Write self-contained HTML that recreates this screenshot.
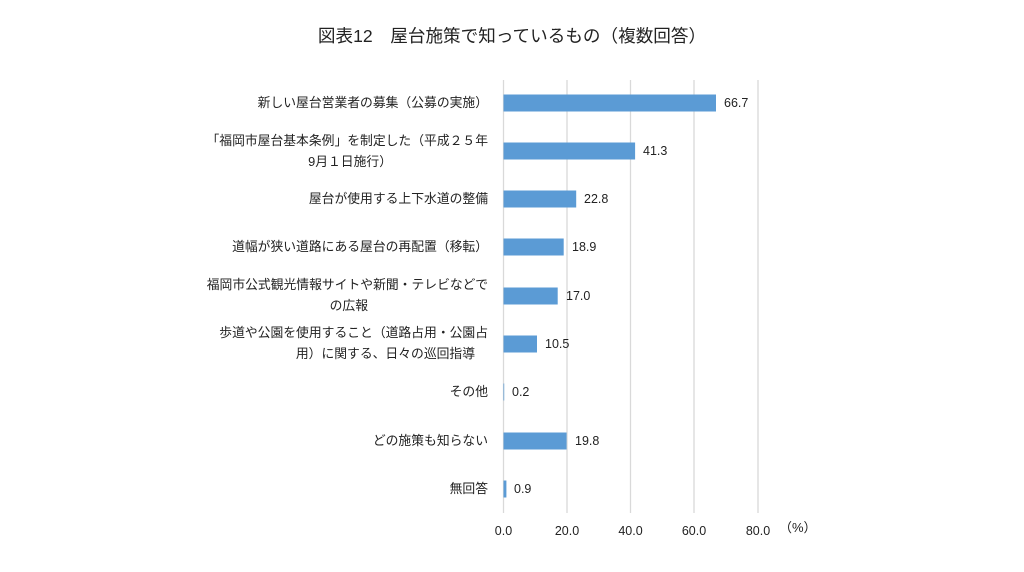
<!DOCTYPE html>
<html><head><meta charset="utf-8"><style>
body{margin:0;background:#fff;}
svg text{font-family:"Liberation Sans","Noto Sans CJK JP",sans-serif;fill:#222;}
</style></head><body>
<svg width="1024" height="567" xmlns="http://www.w3.org/2000/svg">
<rect width="1024" height="567" fill="#fff"/>
<text x="512" y="42" font-size="17.6" text-anchor="middle">図表12　屋台施策で知っているもの（複数回答）</text>
<g stroke="#d9d9d9" stroke-width="1.3">
<line x1="503.5" y1="80" x2="503.5" y2="513"/>
<line x1="567" y1="80" x2="567" y2="513"/>
<line x1="630.5" y1="80" x2="630.5" y2="513"/>
<line x1="694" y1="80" x2="694" y2="513"/>
<line x1="758" y1="80" x2="758" y2="513"/>
</g>
<g fill="#5b9bd5">
<rect x="503.5" y="94.5" width="212.5" height="17"/>
<rect x="503.5" y="142.5" width="131.6" height="17"/>
<rect x="503.5" y="190.5" width="72.7" height="17"/>
<rect x="503.5" y="238.5" width="60.2" height="17"/>
<rect x="503.5" y="287.5" width="54.2" height="17"/>
<rect x="503.5" y="335.5" width="33.5" height="17"/>
<rect x="503.5" y="383.5" width="0.7" height="17"/>
<rect x="503.5" y="432.5" width="63.1" height="17"/>
<rect x="503.5" y="480.5" width="2.9" height="17"/>
</g>
<g font-size="12.5">
<text x="724" y="107">66.7</text>
<text x="643" y="155">41.3</text>
<text x="584" y="203">22.8</text>
<text x="572" y="251">18.9</text>
<text x="566" y="300">17.0</text>
<text x="545" y="348">10.5</text>
<text x="512" y="396">0.2</text>
<text x="575" y="445">19.8</text>
<text x="514" y="493">0.9</text>
</g>
<g font-size="12.8" text-anchor="end">
<text x="488" y="107">新しい屋台営業者の募集（公募の実施）</text>
<text x="488" y="145">「福岡市屋台基本条例」を制定した（平成２５年</text>
<text x="392" y="166">9月１日施行）</text>
<text x="488" y="203">屋台が使用する上下水道の整備</text>
<text x="488" y="251">道幅が狭い道路にある屋台の再配置（移転）</text>
<text x="488" y="289">福岡市公式観光情報サイトや新聞・テレビなどで</text>
<text x="368" y="310">の広報</text>
<text x="488" y="337">歩道や公園を使用すること（道路占用・公園占</text>
<text x="475" y="358">用）に関する、日々の巡回指導</text>
<text x="488" y="396">その他</text>
<text x="488" y="445">どの施策も知らない</text>
<text x="488" y="493">無回答</text>
</g>
<g font-size="12.5" text-anchor="middle">
<text x="503.5" y="535">0.0</text>
<text x="567" y="535">20.0</text>
<text x="630.5" y="535">40.0</text>
<text x="694" y="535">60.0</text>
<text x="758" y="535">80.0</text>
</g>
<text x="779" y="532" font-size="13">（%）</text>
</svg>
</body></html>
